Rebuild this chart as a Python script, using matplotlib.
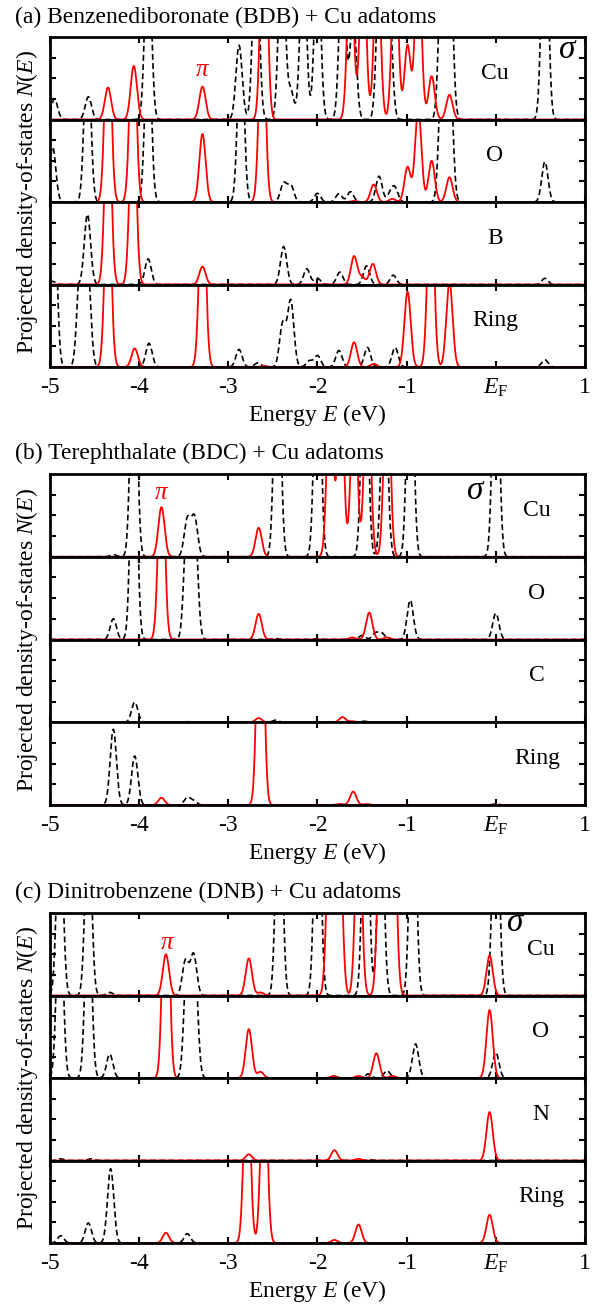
import numpy as np
import matplotlib
matplotlib.use("Agg")
import matplotlib.pyplot as plt

plt.rcParams['font.family'] = ['Liberation Serif', 'DejaVu Serif']
plt.rcParams['mathtext.fontset'] = 'custom'
plt.rcParams['mathtext.rm'] = 'Liberation Serif'
plt.rcParams['mathtext.it'] = 'Liberation Serif:italic'

# peak lists: (energy in eV, height)
a_cu_black = [(-4.95, 1.0), (-4.57, 1.1), (-3.90, 9), (-2.88, 3.6), (-2.69, 9), (-2.40, 9),
              (-2.30, 1.4), (-2.16, 8), (-2.00, 8), (-1.72, 8), (-1.60, 5), (-1.30, 8),
              (-1.20, 6), (-0.60, 9), (-0.52, 9), (0.55, 12)]
a_cu_red = [(-4.35, 1.55), (-4.06, 2.6), (-3.29, 1.6), (-2.60, 12), (-1.63, 8), (-1.49, 8),
            (-1.33, 8), (-1.13, 8), (-0.99, 3.6), (-0.87, 8), (-0.72, 2.1), (-0.52, 1.2)]
a_o_black = [(-4.97, 2.66), (-4.58, 8), (-3.90, 8), (-2.86, 8), (-2.38, 0.9), (-2.30, 0.8),
             (-2.00, 0.42), (-1.76, 0.4), (-1.63, 0.5), (-1.31, 1.25), (-1.18, 0.4),
             (-1.13, 0.6), (-0.60, 7), (-0.52, 7), (0.55, 1.95)]
a_o_red = [(-4.35, 9), (-4.07, 9), (-3.29, 3.3), (-2.62, 9), (-1.59, 0.05), (-1.37, 0.85),
           (-1.16, 0.15), (-0.99, 1.7), (-0.87, 4.5), (-0.72, 2.0), (-0.52, 1.2)]
a_b_black = [(-4.97, 0.15), (-4.58, 3.4), (-3.90, 1.24), (-2.38, 1.84), (-2.12, 0.76),
             (-2.00, 0.3), (-1.75, 0.6), (-1.45, 0.9), (-1.15, 0.45), (0.55, 0.3)]
a_b_red = [(-4.35, 9), (-4.07, 9), (-3.29, 0.87), (-1.59, 1.37), (-1.50, 0.35), (-1.38, 1.0)]
a_ring_black = [(-4.96, 9), (-4.66, 5), (-4.58, 5), (-3.89, 1.15), (-2.88, 0.85), (-2.67, 0.2),
                (-2.39, 2.1), (-2.30, 3.2), (-2.09, 0.3), (-2.00, 0.55), (-1.76, 0.8),
                (-1.44, 0.95), (-1.13, 0.95), (0.55, 0.35)]
a_ring_red = [(-4.35, 9), (-4.05, 0.9), (-3.29, 9), (-2.60, 0.05), (-1.59, 1.2), (-1.37, 0.15),
              (-0.99, 3.65), (-0.73, 9), (-0.52, 4.1)]

b_cu_black = [(-4.29, 0.1), (-4.06, 12), (-3.46, 1.8), (-3.38, 1.9), (-2.45, 12), (-2.00, 12),
              (-1.47, 12), (-1.25, 9), (-0.96, 12), (0.0, 12)]
b_cu_red = [(-3.75, 2.4), (-2.66, 1.4), (-1.86, 8), (-1.74, 8), (-1.59, 8), (-1.44, 9),
            (-1.22, 9)]
b_o_black = [(-4.29, 1.0), (-4.06, 12), (-3.46, 6), (-3.38, 6), (-2.47, 0.05), (-2.0, 0.05),
             (-1.50, 0.2), (-1.35, 0.3), (-1.28, 0.3), (-0.96, 1.9), (0.0, 1.27)]
b_o_red = [(-3.75, 9), (-2.66, 1.24), (-1.61, 0.1), (-1.42, 1.3), (-1.22, 0.1)]
b_c_black = [(-4.05, 0.97), (-3.46, 0.03), (-2.47, 0.1), (-1.48, 0.05)]
b_c_red = [(-2.66, 0.2), (-1.72, 0.25), (-1.61, 0.05)]
b_ring_black = [(-4.29, 3.66), (-4.05, 2.37), (-3.46, 0.35), (-3.39, 0.2), (0.0, 0.05)]
b_ring_red = [(-3.75, 0.35), (-2.64, 14), (-1.75, 0.05), (-1.60, 0.65), (-1.45, 0.05)]

c_cu_black = [(-4.89, 9), (-4.57, 9), (-4.33, 0.15), (-3.48, 1.7), (-3.39, 2.0), (-2.43, 12),
              (-2.00, 12), (-1.46, 12), (-1.29, 9), (-0.93, 12), (0.0, 12)]
c_cu_red = [(-3.70, 2.0), (-2.77, 1.8), (-2.64, 0.15), (-1.86, 9), (-1.76, 9), (-1.54, 9),
            (-1.29, 9), (-1.22, 9), (-1.15, 9), (-0.07, 1.95)]
c_o_black = [(-4.89, 9), (-4.57, 9), (-4.33, 1.16), (-3.46, 6), (-3.38, 6), (-1.43, 0.2),
             (-1.22, 0.35), (-0.90, 1.65), (0.0, 1.24)]
c_o_red = [(-3.70, 12), (-2.77, 2.37), (-2.64, 0.3), (-1.82, 0.1), (-1.54, 0.1), (-1.34, 1.2),
           (-1.16, 0.1), (-0.07, 3.3)]
c_n_black = [(-4.88, 0.08), (-4.54, 0.08), (-1.41, 0.03)]
c_n_red = [(-2.77, 0.3), (-1.81, 0.5), (-1.54, 0.08), (-0.07, 2.35)]
c_ring_black = [(-4.88, 0.35), (-4.57, 0.97), (-4.32, 3.6), (-3.46, 0.45)]
c_ring_red = [(-3.70, 0.5), (-2.79, 9), (-2.60, 9), (-1.81, 0.15), (-1.54, 0.9), (-0.07, 1.37)]

panel_titles = ["(a) Benzenediboronate (BDB) + Cu adatoms",
                "(b) Terephthalate (BDC) + Cu adatoms",
                "(c) Dinitrobenzene (DNB) + Cu adatoms"]
row_labels = [["Cu", "O", "B", "Ring"], ["Cu", "O", "C", "Ring"], ["Cu", "O", "N", "Ring"]]
panel_data = [
    [(a_cu_black, a_cu_red), (a_o_black, a_o_red), (a_b_black, a_b_red), (a_ring_black, a_ring_red)],
    [(b_cu_black, b_cu_red), (b_o_black, b_o_red), (b_c_black, b_c_red), (b_ring_black, b_ring_red)],
    [(c_cu_black, c_cu_red), (c_o_black, c_o_red), (c_n_black, c_n_red), (c_ring_black, c_ring_red)],
]
xticks = [-5, -4, -3, -2, -1, 0, 1]
xticklabels = ["-5", "-4", "-3", "-2", "-1", r"$E_{\rm F}$", "1"]

SIGMA = 0.035
energy = np.linspace(-5, 1, 3000)


def broaden(peaks):
    dos = np.zeros_like(energy)
    for e0, h in peaks:
        dos += h * np.exp(-(energy - e0) ** 2 / (2 * SIGMA ** 2))
    return dos


W, H = 598, 1309
fig = plt.figure(figsize=(W / 100, H / 100), dpi=100)

left, right = 50, 585
panel_tops = [37, 474, 913]
panel_bottoms = [367, 805, 1243]
title_y = [17, 453, 892]
label_x = [495, 537, 541]
sigma_pos = [(567, 50), (475, 491), (515, 923)]
pi_pos = [(202, 70), (161, 493), (167, 943)]
FS = 17

for p in range(3):
    top, bot = panel_tops[p], panel_bottoms[p]
    hrow = (bot - top) / 4
    for r in range(4):
        y0 = top + r * hrow
        ax = fig.add_axes([left / W, 1 - (y0 + hrow) / H, (right - left) / W, hrow / H])
        black, red = panel_data[p][r]
        ax.plot(energy, broaden(black), color='black', lw=1.2, ls=(0, (3.5, 2)))
        ax.plot(energy, broaden(red), color='red', lw=1.3)
        ax.set_xlim(-5, 1)
        ax.set_ylim(0, 4)
        ax.set_xticks(xticks)
        ax.set_yticks([1, 2, 3])
        ax.set_yticklabels([])
        ax.tick_params(direction='in', top=True, right=True, length=4, width=1.5)
        for s in ax.spines.values():
            s.set_linewidth(2)
        if r == 3:
            ax.set_xticklabels(xticklabels, fontsize=FS)
            ax.tick_params(axis='x', pad=7)
            ax.set_xlabel(r"Energy $E$ (eV)", fontsize=FS, labelpad=2)
        else:
            ax.set_xticklabels([])
        fig.text(label_x[p] / W, 1 - (y0 + hrow * 0.44) / H, row_labels[p][r],
                 fontsize=FS, ha='center', va='center')
    fig.text(15 / W, 1 - title_y[p] / H, panel_titles[p], fontsize=FS, ha='left', va='center')
    fig.text(27 / W, 1 - (top + bot) / 2 / H, r"Projected density-of-states $N(E)$",
             rotation=90, fontsize=FS, ha='center', va='center')
    fig.text(sigma_pos[p][0] / W, 1 - sigma_pos[p][1] / H, "σ", fontsize=24,
             fontstyle='italic', ha='center', va='center')
    fig.text(pi_pos[p][0] / W, 1 - pi_pos[p][1] / H, "π", fontsize=18, color='red',
             fontstyle='italic', ha='center', va='center')

fig.savefig("out.png", dpi=100)
